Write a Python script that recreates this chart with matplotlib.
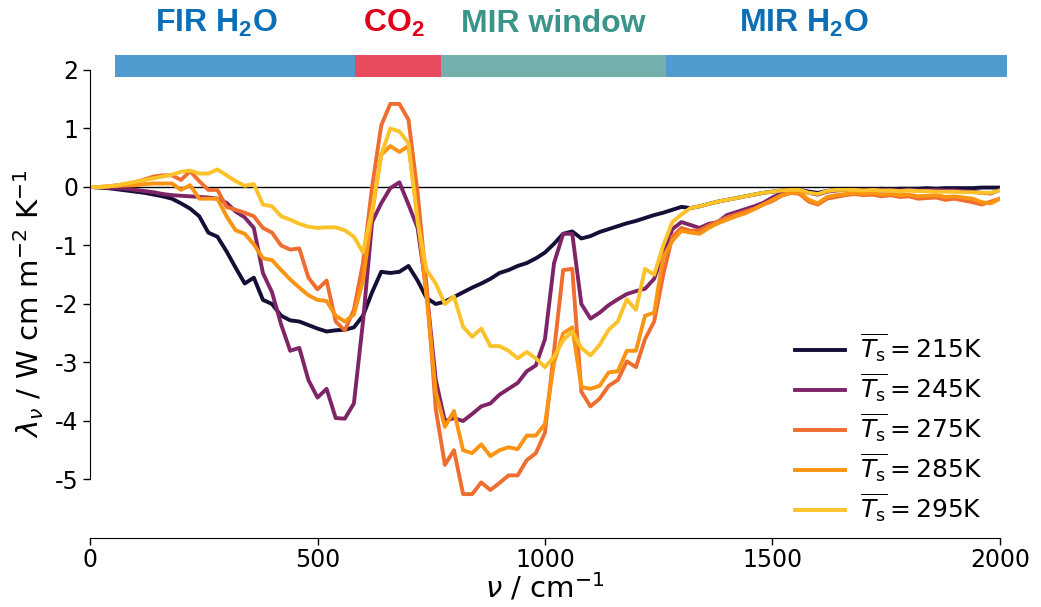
import numpy as np
import matplotlib
matplotlib.use("Agg")
import matplotlib.pyplot as plt
from matplotlib.patches import Rectangle

plt.rcParams['font.family'] = ['DejaVu Sans']
plt.rcParams['axes.unicode_minus'] = False
plt.rcParams['mathtext.fontset'] = 'custom'
plt.rcParams['mathtext.rm'] = 'DejaVu Sans'
plt.rcParams['mathtext.it'] = 'DejaVu Sans:italic'
plt.rcParams['mathtext.bf'] = 'Liberation Sans:bold'

# wavenumber grid (cm^-1)
wavenumber = np.arange(0, 2001, 20)

# spectral feedback, W cm m^-2 K^-1
lam_215 = [
    0, -0.01, -0.02, -0.04, -0.06, -0.08, -0.10, -0.13, -0.16, -0.20,
    -0.28, -0.37, -0.50, -0.78, -0.85, -1.10, -1.38, -1.65, -1.55, -1.93,
    -2.00, -2.20, -2.28, -2.30, -2.36, -2.42, -2.47, -2.45, -2.44, -2.40,
    -2.20, -1.80, -1.45, -1.47, -1.45, -1.35, -1.60, -1.90, -2.00, -1.96,
    -1.88, -1.80, -1.72, -1.65, -1.57, -1.47, -1.42, -1.35, -1.30, -1.22,
    -1.12, -0.97, -0.80, -0.76, -0.88, -0.84, -0.77, -0.72, -0.67, -0.62,
    -0.58, -0.53, -0.48, -0.44, -0.39, -0.34, -0.36, -0.33, -0.29, -0.25,
    -0.22, -0.19, -0.16, -0.13, -0.10, -0.08, -0.06, -0.05, -0.05, -0.08,
    -0.10, -0.07, -0.05, -0.05, -0.04, -0.04, -0.04, -0.03, -0.04, -0.03,
    -0.03, -0.03, -0.02, -0.03, -0.02, -0.02, -0.02, -0.02, -0.01, -0.01,
    -0.01,
]
lam_245 = [
    0, 0, -0.01, -0.02, -0.03, -0.05, -0.07, -0.09, -0.12, -0.14,
    -0.15, -0.16, -0.17, -0.18, -0.20, -0.27, -0.42, -0.52, -0.70, -1.47,
    -1.80, -2.35, -2.80, -2.75, -3.30, -3.60, -3.45, -3.95, -3.96, -3.70,
    -2.30, -0.60, -0.28, -0.02, 0.08, -0.30, -0.70, -1.80, -3.30, -4.00,
    -3.95, -4.00, -3.88, -3.75, -3.70, -3.55, -3.45, -3.35, -3.15, -3.05,
    -2.60, -1.30, -0.80, -0.80, -2.00, -2.25, -2.15, -2.02, -1.92, -1.83,
    -1.78, -1.74, -1.57, -1.13, -0.72, -0.60, -0.65, -0.70, -0.63, -0.60,
    -0.48, -0.43, -0.38, -0.33, -0.27, -0.18, -0.10, -0.07, -0.06, -0.10,
    -0.13, -0.08, -0.06, -0.05, -0.05, -0.06, -0.05, -0.06, -0.05, -0.06,
    -0.05, -0.06, -0.06, -0.05, -0.06, -0.06, -0.07, -0.08, -0.10, -0.11,
    -0.05,
]
lam_275 = [
    0, 0, 0.01, 0.03, 0.05, 0.08, 0.13, 0.18, 0.20, 0.20,
    0.12, 0.27, 0.10, -0.05, -0.05, -0.34, -0.39, -0.44, -0.50, -0.70,
    -0.78, -1.00, -1.07, -1.05, -1.55, -1.75, -1.60, -2.30, -2.45, -2.10,
    -1.30, 0.00, 1.05, 1.42, 1.42, 1.15, -0.10, -1.70, -3.80, -4.75,
    -4.50, -5.25, -5.25, -5.05, -5.18, -5.06, -4.93, -4.93, -4.67, -4.55,
    -4.20, -2.80, -1.42, -1.40, -3.50, -3.75, -3.62, -3.40, -3.30, -2.98,
    -3.08, -2.60, -2.30, -1.50, -0.85, -0.70, -0.75, -0.74, -0.66, -0.59,
    -0.52, -0.47, -0.42, -0.37, -0.30, -0.24, -0.15, -0.10, -0.12, -0.25,
    -0.30, -0.20, -0.17, -0.14, -0.12, -0.14, -0.13, -0.16, -0.14, -0.17,
    -0.16, -0.20, -0.19, -0.18, -0.22, -0.20, -0.23, -0.26, -0.30, -0.25,
    -0.20,
]
lam_285 = [
    0, 0, 0.01, 0.02, 0.03, 0.03, 0.05, 0.06, 0.06, 0.06,
    -0.05, 0.03, -0.20, -0.20, -0.20, -0.50, -0.74, -0.80, -0.98, -1.22,
    -1.25, -1.42, -1.58, -1.72, -1.85, -1.93, -1.95, -2.20, -2.30, -2.18,
    -1.60, -0.45, 0.55, 0.70, 0.60, 0.70, -0.50, -1.90, -3.50, -4.10,
    -3.83, -4.50, -4.55, -4.40, -4.60, -4.50, -4.45, -4.48, -4.25, -4.25,
    -4.05, -3.00, -2.50, -2.40, -3.42, -3.45, -3.40, -3.17, -3.15, -2.80,
    -2.80, -2.20, -2.15, -1.20, -0.92, -0.75, -0.78, -0.80, -0.70, -0.62,
    -0.56, -0.50, -0.45, -0.38, -0.30, -0.22, -0.14, -0.10, -0.10, -0.22,
    -0.28, -0.17, -0.14, -0.12, -0.10, -0.12, -0.10, -0.13, -0.12, -0.14,
    -0.13, -0.16, -0.15, -0.14, -0.17, -0.16, -0.18, -0.20, -0.26, -0.28,
    -0.20,
]
lam_295 = [
    0, 0, 0.01, 0.03, 0.06, 0.09, 0.12, 0.15, 0.18, 0.21,
    0.26, 0.28, 0.23, 0.23, 0.30, 0.20, 0.10, 0.02, 0.05, -0.30,
    -0.33, -0.50, -0.56, -0.63, -0.68, -0.70, -0.69, -0.69, -0.74, -0.85,
    -1.12, -0.40, 0.55, 1.00, 0.95, 0.75, -0.60, -1.42, -1.65, -2.00,
    -1.87, -2.39, -2.56, -2.42, -2.72, -2.72, -2.80, -2.93, -2.82, -2.93,
    -3.08, -2.90, -2.62, -2.47, -2.75, -2.88, -2.70, -2.44, -2.30, -1.92,
    -2.10, -1.40, -1.50, -1.00, -0.60, -0.47, -0.36, -0.33, -0.29, -0.25,
    -0.22, -0.19, -0.16, -0.13, -0.10, -0.08, -0.06, -0.05, -0.05, -0.10,
    -0.12, -0.07, -0.05, -0.05, -0.05, -0.06, -0.05, -0.06, -0.06, -0.07,
    -0.06, -0.07, -0.07, -0.08, -0.08, -0.08, -0.09, -0.09, -0.10, -0.10,
    -0.06,
]

series = [lam_215, lam_245, lam_275, lam_285, lam_295]
surface_temps = [215, 245, 275, 285, 295]
line_colors = ['#150e37', '#7e2568', '#ef6d2f', '#fb9412', '#fcc22a']

# spectral bands shown above the panel
band_names = ['FIR H$_\\mathbf{2}$O', 'CO$_\\mathbf{2}$', 'MIR window', 'MIR H$_\\mathbf{2}$O']
band_edges = [(55, 582), (582, 772), (772, 1267), (1267, 2016)]
band_label_x = [277, 668, 1019, 1570]
band_bar_colors = ['#4f9bcf', '#e94b5e', '#73b0ac', '#4f9bcf']
band_text_colors = ['#0b6fb8', '#e0001b', '#3a948a', '#0b6fb8']

fig = plt.figure(figsize=(10.41, 6.07), dpi=100)
ax = fig.add_axes([0.0865, 0.1137, 0.874, 0.771])

ax.axhline(0, color='black', lw=1.0, zorder=1)
for vals, T, c in zip(series, surface_temps, line_colors):
    ax.plot(wavenumber, vals, color=c, lw=2.8, zorder=2,
            label=r'$\overline{T_\mathrm{s}} = %d$K' % T)

ax.set_xlim(0, 2000)
ax.set_ylim(-6, 2)
ax.set_xticks([0, 500, 1000, 1500, 2000])
ax.set_yticks([-5, -4, -3, -2, -1, 0, 1, 2])
ax.tick_params(labelsize=17, length=5, width=1)
ax.tick_params(axis='x', pad=2)
for s in ['top', 'right']:
    ax.spines[s].set_visible(False)
ax.spines['left'].set_bounds(-5, 2)
ax.spines['bottom'].set_bounds(0, 2000)

ax.set_xlabel(r'$\nu$ / cm$^{-1}$', fontsize=21, labelpad=0)
ax.set_ylabel(r'$\lambda_\nu$ / W cm m$^{-2}$ K$^{-1}$', fontsize=21, labelpad=6)

for (x0, x1), name, lx, bc, tc in zip(band_edges, band_names, band_label_x,
                                      band_bar_colors, band_text_colors):
    ax.add_patch(Rectangle((x0, 1.88), x1 - x0, 0.37, facecolor=bc,
                           edgecolor='none', clip_on=False, zorder=3))
    ax.text(lx, 2.65, name, color=tc, fontsize=23, fontweight='bold',
            family='Liberation Sans', ha='center', va='baseline', clip_on=False)

ax.legend(loc='lower right', bbox_to_anchor=(1.006, -0.02), frameon=False,
          fontsize=18, handlelength=2.0, labelspacing=0.27, handletextpad=0.6)

fig.savefig('out.png', dpi=100)
